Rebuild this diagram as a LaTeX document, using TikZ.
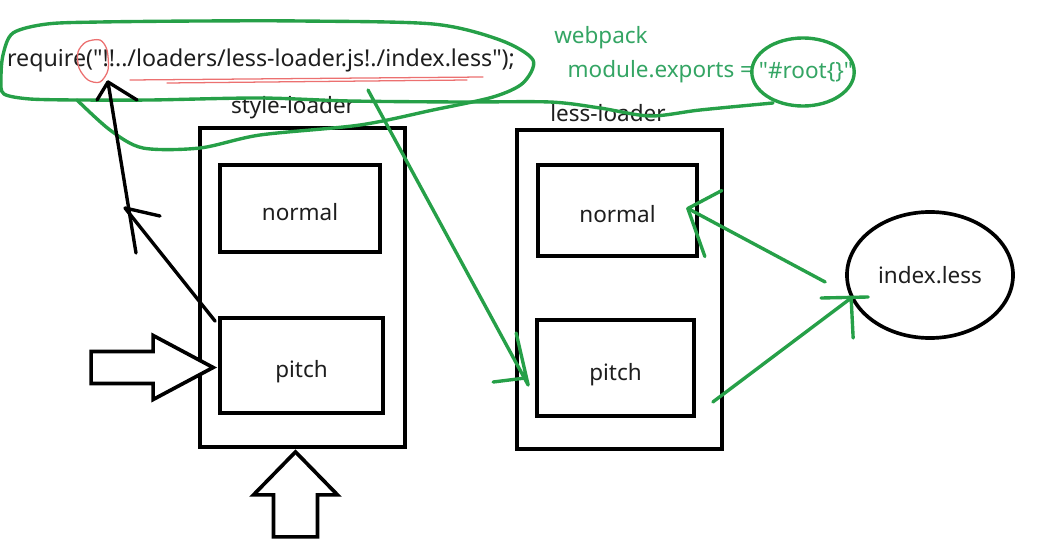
\documentclass[tikz,border=0pt]{standalone}
\usepackage{fontspec}
\setmainfont{Noto Sans}
\usetikzlibrary{positioning}
\usetikzlibrary{shapes.geometric}
\definecolor{handgreen}{RGB}{38,160,72}
\definecolor{inkgreen}{RGB}{52,165,100}
\definecolor{handred}{RGB}{236,112,112}
\definecolor{inkgray}{RGB}{30,30,30}
\begin{document}
\begin{tikzpicture}[x=0.025cm,y=-0.025cm,
  every node/.style={font=\fontsize{16}{19}\selectfont,text=inkgray},
  box/.style={draw,line width=2.6pt,inner sep=0pt},
  part/.style={box,text height=17.5pt,text depth=0pt},
  pen/.style={line width=2.4pt,line cap=round,line join=round},
  greenpen/.style={pen,handgreen},
  redpen/.style={line width=0.9pt,handred,line cap=round},
  blockpen/.style={line width=2.6pt,line join=miter,fill=white}]
\useasboundingbox[fill=white] (0,0) rectangle (1041,558);
  \node[box,minimum width=5.125cm,minimum height=7.975cm] (styleloader) at (302.5,287.5) {};
  \node[part,minimum width=4cm,minimum height=2.175cm] (normalA) at (300,208.5) {normal};
  \node[part,minimum width=4.075cm,minimum height=2.375cm] (pitchA) at (301.5,365.5) {pitch};
  \node (styletext) at (293,108) {style-loader};
  \node[box,minimum width=5.125cm,minimum height=7.975cm] (lessloader) at (619.5,289.5) {};
  \node[part,minimum width=3.975cm,minimum height=2.275cm] (normalB) at (617.5,210.5) {normal};
  \node[part,minimum width=3.925cm,minimum height=2.4cm] (pitchB) at (615.5,368) {pitch};
  \node (lesstext) at (608,113) {less-loader};
  \node[box,ellipse,minimum width=4.15cm,minimum height=3.15cm] (index) at (930,275) {index.less};
  \node[font=\fontsize{16.5}{19}\selectfont] (require) at (261,60)
    {require(\textquotedbl!!../loaders/less-loader.js!./index.less\textquotedbl);};
  \node[text=inkgreen] (webpack) at (601,38) {webpack};
  \node[text=inkgreen,anchor=east] (exports) at (758,72) {module.exports =};
  \node[text=inkgreen] (root) at (806,72) {\textquotedbl\#root\{\}\textquotedbl};
\draw[greenpen] (803,72) ellipse [x radius=1.28cm,y radius=0.85cm];
\draw[greenpen] plot[smooth] coordinates {(77,100) (110,130) (143,148) (200,148) (260,135)
  (360,125) (433,110) (493,97) (523,83) (533,60) (500,40) (433,24) (300,21) (200,21)
  (100,22) (47,24) (13,33) (3,55) (1,80) (4,94) (30,99) (77,100)};
\draw[greenpen] plot[smooth] coordinates {(77,100) (150,100) (260,98) (350,101) (460,102)
  (550,102) (600,108) (650,116) (700,110) (773,103)};
\draw[redpen] plot[smooth cycle] coordinates {(86,42) (100,40) (107,50) (108,70) (100,82)
  (88,80) (79,68) (78,52)};
\draw[redpen] (130,80) -- (483,77);
\draw[redpen] (167,83) -- (467,80);
  \coordinate (bangs) at (108,82);
  \coordinate (turn) at (125,208);
  \coordinate (tail) at (136,253);
  \coordinate (jsmark) at (368,90);
\draw[pen] ([shift={(-3,5)}]pitchA.north west) -- (turn) -- ++(35,8);
\draw[pen] (tail) -- (bangs) -- ++(-11,18);
\draw[pen] (bangs) -- ++(29,18);
\draw[greenpen] (jsmark) -- ([shift={(-7,17)}]pitchB.west) coordinate (hitB) -- ++(-12,-52);
\draw[greenpen] (hitB) ++(-3,-7) -- ++(-32,4);
\draw[greenpen] ([shift={(-20,7)}]index.west) -- ([shift={(-11,-2)}]normalB.east) coordinate (hitN) -- ++(34,-18);
\draw[greenpen] (hitN) -- ++(17,48);
\draw[greenpen] ([shift={(17,34)}]pitchB.east) -- ([shift={(6,23)}]index.west) coordinate (hitI) -- ++(2,40);
\draw[greenpen] (hitI) ++(-30,0) -- ++(47,-1);
\draw[blockpen] ([shift={(-5,2)}]pitchA.west) -- ++(-60,-32) -- ++(0,16) -- ++(-62,0)
  -- ++(0,32) -- ++(62,0) -- ++(0,16) -- cycle;
\draw[blockpen] ([shift={(-7,3)}]styleloader.south) -- ++(42,43) -- ++(-20,0) -- ++(0,42)
  -- ++(-44,0) -- ++(0,-42) -- ++(-20,0) -- cycle;
\end{tikzpicture}
\end{document}
